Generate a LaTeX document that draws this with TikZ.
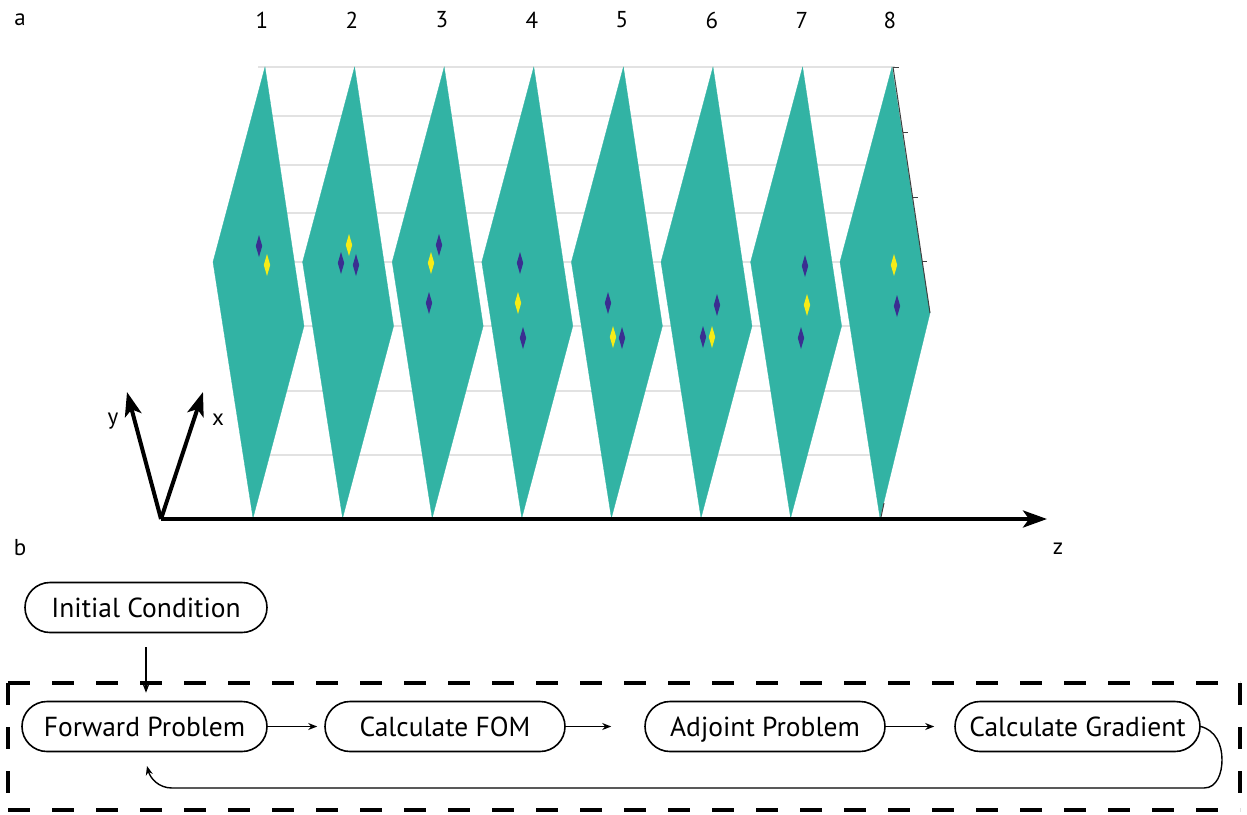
\documentclass[tikz,border=0pt]{standalone}
\usepackage{fontspec}
\setmainfont{PT Sans}
\usetikzlibrary{arrows.meta}

\definecolor{planeteal}{RGB}{50,179,164}
\definecolor{spotblue}{RGB}{58,46,145}
\definecolor{spotyellow}{RGB}{246,236,22}
\definecolor{gridgray}{RGB}{226,226,226}

\tikzset{
  plane/.style={fill=planeteal, draw=planeteal, line width=0.3pt},
  gridline/.style={draw=gridgray, line width=1.1pt},
  boxaxis/.style={draw=black!75, line width=1pt},
  axisarrow/.style={line width=4pt, -{Stealth[length=24pt,width=17pt,inset=6pt]}},
  axislabel/.style={font=\fontsize{23}{25}\selectfont, inner sep=0pt},
  stepbox/.style={draw, line width=1.6pt, rounded corners=25pt, minimum height=50pt,
    inner xsep=12pt, text height=23pt, text depth=3pt,
    font=\fontsize{27.5}{30}\selectfont},
  flow/.style={line width=1.4pt, -{Stealth[length=9pt,width=7pt]}},
  frame/.style={line width=4pt, dash pattern=on 22pt off 22pt},
}

% a narrow field spot centred at (#2,#3)
\newcommand\fieldspot[3]{\fill[#1] (#2,#3-11) -- (#2+3.2,#3) -- (#2,#3+11) -- (#2-3.2,#3) -- cycle;}

\begin{document}
\begin{tikzpicture}[x=1pt,y=-1pt]
\useasboundingbox (0,0) rectangle (1247,814);

% back wall grid
\foreach \gy in {67,116,165,213,262,326,391,455}
  \draw[gridline] (258,\gy) -- (895,\gy);

% the eight slices along z
\foreach \k in {0,...,6} {
  \pgfmathsetmacro\dx{89.6*\k}
  \fill[plane] (265+\dx,67) -- (304+\dx,326) -- (253+\dx,518) -- (213+\dx,262) -- cycle;
}
\fill[plane] (892,67) -- (930,313) -- (880,518) -- (840,262) -- cycle;

% axis box edge with ticks
\draw[boxaxis] (893,67) -- (930,313);
\draw[boxaxis] (893,67) -- (899,67);
\draw[boxaxis] (903,132) -- (908,132);
\draw[boxaxis] (913,197) -- (918,197);
\draw[boxaxis] (922,261) -- (927,261);
\draw[boxaxis] (884,503) -- (881,517);

% field spots
\fieldspot{spotblue}{259}{246}
\fieldspot{spotyellow}{267}{265}
\fieldspot{spotyellow}{349}{245}
\fieldspot{spotblue}{341}{263}
\fieldspot{spotblue}{356}{265}
\fieldspot{spotblue}{439}{245}
\fieldspot{spotyellow}{431}{263}
\fieldspot{spotblue}{429}{303}
\fieldspot{spotblue}{520}{263}
\fieldspot{spotyellow}{518}{303}
\fieldspot{spotblue}{523}{338}
\fieldspot{spotblue}{608}{303}
\fieldspot{spotyellow}{613}{337}
\fieldspot{spotblue}{622}{338}
\fieldspot{spotblue}{717}{305}
\fieldspot{spotblue}{703}{337}
\fieldspot{spotyellow}{712}{337}
\fieldspot{spotblue}{805}{266}
\fieldspot{spotyellow}{807}{305}
\fieldspot{spotblue}{801}{338}
\fieldspot{spotyellow}{894}{265}
\fieldspot{spotblue}{897}{306}

% coordinate axes
\coordinate (O) at (161,519);
\coordinate (ytip) at (127,392);
\coordinate (xtip) at (203,392);
\coordinate (ztip) at (1047,519);
\draw[axisarrow] (O) -- (ztip);
\draw[axisarrow] (O) -- (ytip);
\draw[axisarrow] (O) -- (xtip);
\node[axislabel] (ylab) at (113,421) {y};
\node[axislabel] (xlab) at (218,420) {x};
\node[axislabel] (zlab) at (1058,549) {z};

% panel and slice labels
\node[axislabel] (pa) at (20,20) {a};
\node[axislabel] (pb) at (20,548) {b};
\foreach \n/\lx in {1/262,2/352,3/442,4/532,5/622,6/712,7/802,8/890}
  \node[axislabel] (num\n) at (\lx,20) {\n};

% optimisation loop
\node[stepbox, minimum width=242pt] (init) at (146,607.5) {Initial Condition};
\node[stepbox, minimum width=245pt] (fwd)  at (144.5,726.5) {Forward Problem};
\node[stepbox, minimum width=240pt] (fom)  at (445,726.5) {Calculate FOM};
\node[stepbox, minimum width=240pt] (adj)  at (765,726.5) {Adjoint Problem};
\node[stepbox, minimum width=245pt] (grad) at (1077.5,726.5) {Calculate Gradient};

\draw[flow, shorten <=14pt, shorten >=8pt] (init.south) -- (init.south |- fwd.north);
\draw[flow, shorten >=7pt] (fwd) -- (fom);
\draw[flow, shorten >=33pt] (fom) -- (adj);
\draw[flow, shorten >=20pt] (adj) -- (grad);

\coordinate (loopA) at (1222,760);
\coordinate (loopB) at (1204,788);
\coordinate (loopC) at (172,788);
\coordinate (loopEnd) at (147,766);
\draw[flow] (grad.east) to[out=-15,in=90] (loopA) to[out=-90,in=0] (loopB)
  -- (loopC) to[out=180,in=-75] (loopEnd);

% dashed frame around the iterative part
\draw[frame] (8,683) -- (1240,683);
\draw[frame] (8,810) -- (1240,810);
\draw[frame] (8,683) -- (8,810);
\draw[frame] (1240,683) -- (1240,810);
\end{tikzpicture}
\end{document}
